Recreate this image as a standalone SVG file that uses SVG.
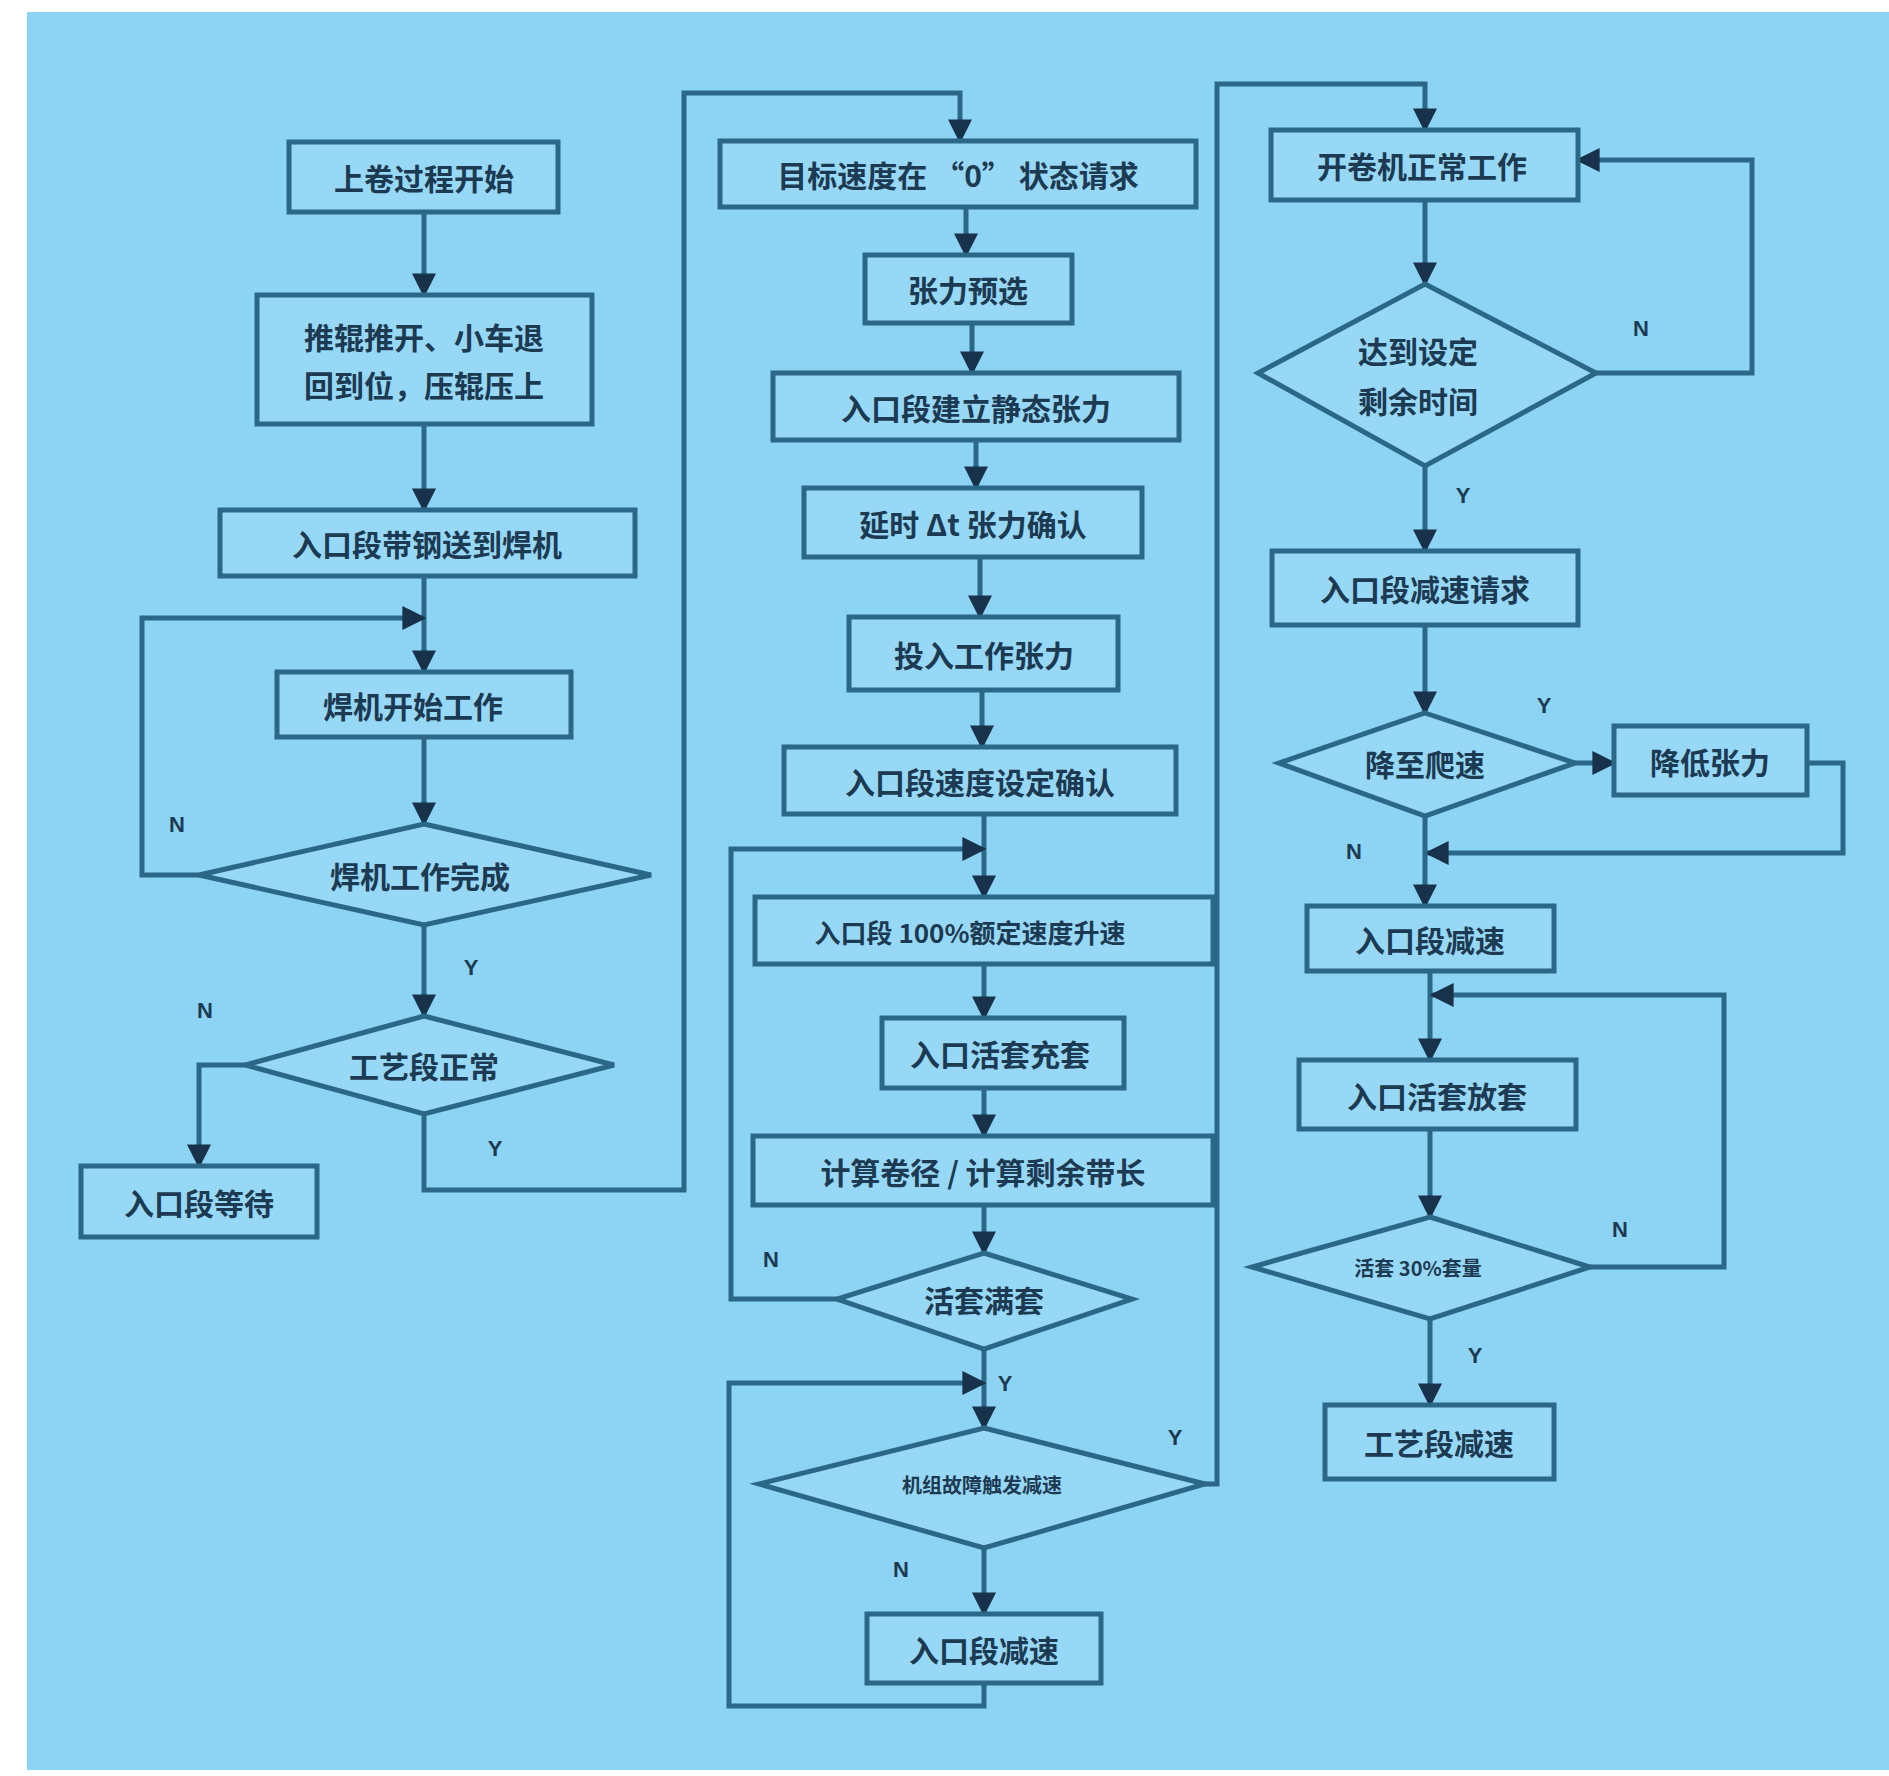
<svg xmlns="http://www.w3.org/2000/svg" width="1889" height="1776" viewBox="0 0 1889 1776">
<defs>
<style>
.bx{fill:#97d8f6;stroke:#2b6787;stroke-width:5}
.dm{fill:#97d8f6;stroke:#2b6787;stroke-width:5}
.t{font-family:"Noto Sans CJK SC","Noto Sans",sans-serif;font-weight:bold;fill:#1c3a52;text-anchor:middle;dominant-baseline:central;font-size:30px}
.s{font-size:26px}
.xs{font-size:20px}
.lb{font-family:"Liberation Sans",sans-serif;font-weight:bold;fill:#1c3a52;font-size:22px;text-anchor:middle;dominant-baseline:central}
.c{fill:none;stroke:#2b6787;stroke-width:5;marker-end:url(#ah)}
.cn{fill:none;stroke:#2b6787;stroke-width:5}
</style>
<marker id="ah" viewBox="0 0 10 10" refX="9" refY="5" markerWidth="24" markerHeight="24" markerUnits="userSpaceOnUse" orient="auto">
<path d="M0,0 L10,5 L0,10 z" fill="#17324a"/>
</marker>
</defs>
<rect x="0" y="0" width="1889" height="1776" fill="#ffffff"/>
<rect x="27" y="12" width="1862" height="1758" fill="#8dd4f4"/>

<g id="connectors">
<path class="c" d="M424 212 V295"/>
<path class="c" d="M424 424 V510"/>
<path class="c" d="M424 576 V672"/>
<path class="c" d="M199 875 H142 V618 H424"/>
<path class="c" d="M424 737 V824"/>
<path class="c" d="M424 925 V1016"/>
<path class="c" d="M245 1065 H199 V1166"/>
<path class="c" d="M424 1114 V1190 H684 V93 H960 V141"/>

<path class="c" d="M966 207 V255"/>
<path class="c" d="M972 323 V373"/>
<path class="c" d="M976 440 V488"/>
<path class="c" d="M980 557 V617"/>
<path class="c" d="M982 690 V747"/>
<path class="c" d="M984 814 V897"/>
<path class="c" d="M837 1299 H731 V849 H984"/>
<path class="c" d="M984 964 V1018"/>
<path class="c" d="M984 1088 V1136"/>
<path class="c" d="M984 1205 V1253"/>
<path class="c" d="M984 1349 V1428"/>
<path class="c" d="M984 1683 V1706 H729 V1383 H984"/>
<path class="c" d="M1205 1484 H1217 V84 H1425 V130"/>
<path class="c" d="M984 1548 V1614"/>

<path class="c" d="M1425 200 V284"/>
<path class="c" d="M1596 373 H1752 V160 H1578"/>
<path class="c" d="M1425 466 V551"/>
<path class="c" d="M1425 625 V713"/>
<path class="c" d="M1575 763 H1614"/>
<path class="c" d="M1807 763 H1843 V853 H1427"/>
<path class="c" d="M1425 816 V906"/>
<path class="c" d="M1430 971 V1060"/>
<path class="c" d="M1590 1267 H1724 V995 H1432"/>
<path class="c" d="M1430 1129 V1217"/>
<path class="c" d="M1430 1319 V1405"/>

<text class="lb" x="177" y="824">N</text>
<text class="lb" x="471" y="967">Y</text>
<text class="lb" x="205" y="1010">N</text>
<text class="lb" x="495" y="1148">Y</text>
<text class="lb" x="771" y="1259">N</text>
<text class="lb" x="1005" y="1383">Y</text>
<text class="lb" x="1175" y="1437">Y</text>
<text class="lb" x="901" y="1569">N</text>
<text class="lb" x="1641" y="328">N</text>
<text class="lb" x="1463" y="495">Y</text>
<text class="lb" x="1544" y="705">Y</text>
<text class="lb" x="1354" y="851">N</text>
<text class="lb" x="1620" y="1229">N</text>
<text class="lb" x="1475" y="1355">Y</text>
</g>

<g id="n1"><rect class="bx" x="289" y="142" width="269" height="70"/><text class="t" x="424" y="177">上卷过程开始</text></g>
<g id="n2"><rect class="bx" x="257" y="295" width="335" height="129"/><text class="t" x="424" y="336">推辊推开、小车退</text><text class="t" x="424" y="384">回到位，压辊压上</text></g>
<g id="n3"><rect class="bx" x="220" y="510" width="415" height="66"/><text class="t" x="427" y="543">入口段带钢送到焊机</text></g>
<g id="n4"><rect class="bx" x="277" y="672" width="294" height="65"/><text class="t" x="413" y="705">焊机开始工作</text></g>
<g id="n5"><polygon class="dm" points="424,824 651,875 424,925 199,875"/><text class="t" x="420" y="875">焊机工作完成</text></g>
<g id="n6"><polygon class="dm" points="424,1016 614,1065 424,1114 245,1065"/><text class="t" x="424" y="1065">工艺段正常</text></g>
<g id="n7"><rect class="bx" x="81" y="1166" width="236" height="71"/><text class="t" x="199" y="1202">入口段等待</text></g>

<g id="m1"><rect class="bx" x="720" y="141" width="476" height="66"/><text class="t" x="958" y="174">目标速度在 “0” 状态请求</text></g>
<g id="m2"><rect class="bx" x="865" y="255" width="207" height="68"/><text class="t" x="968" y="289">张力预选</text></g>
<g id="m3"><rect class="bx" x="773" y="373" width="406" height="67"/><text class="t" x="976" y="407">入口段建立静态张力</text></g>
<g id="m4"><rect class="bx" x="804" y="488" width="338" height="69"/><text class="t" x="973" y="523">延时 Δt 张力确认</text></g>
<g id="m5"><rect class="bx" x="849" y="617" width="269" height="73"/><text class="t" x="984" y="654">投入工作张力</text></g>
<g id="m6"><rect class="bx" x="784" y="747" width="392" height="67"/><text class="t" x="980" y="781">入口段速度设定确认</text></g>
<g id="m7"><rect class="bx" x="755" y="897" width="458" height="67"/><text class="t s" x="970" y="931">入口段 100%额定速度升速</text></g>
<g id="m8"><rect class="bx" x="882" y="1018" width="242" height="70"/><text class="t" x="1000" y="1053">入口活套充套</text></g>
<g id="m9"><rect class="bx" x="753" y="1136" width="460" height="69"/><text class="t" x="983" y="1171">计算卷径 / 计算剩余带长</text></g>
<g id="m10"><polygon class="dm" points="984,1253 1132,1299 984,1349 837,1299"/><text class="t" x="984" y="1299">活套满套</text></g>
<g id="m11"><polygon class="dm" points="984,1428 1205,1484 984,1548 759,1484"/><text class="t xs" x="982" y="1484">机组故障触发减速</text></g>
<g id="m12"><rect class="bx" x="867" y="1614" width="234" height="69"/><text class="t" x="984" y="1649">入口段减速</text></g>

<g id="r1"><rect class="bx" x="1271" y="130" width="307" height="70"/><text class="t" x="1422" y="165">开卷机正常工作</text></g>
<g id="r2"><polygon class="dm" points="1425,284 1596,373 1425,466 1258,373"/><text class="t" x="1418" y="350">达到设定</text><text class="t" x="1418" y="400">剩余时间</text></g>
<g id="r3"><rect class="bx" x="1272" y="551" width="306" height="74"/><text class="t" x="1425" y="588">入口段减速请求</text></g>
<g id="r4"><polygon class="dm" points="1425,713 1575,763 1425,816 1279,763"/><text class="t" x="1425" y="763">降至爬速</text></g>
<g id="r5"><rect class="bx" x="1614" y="726" width="193" height="69"/><text class="t" x="1710" y="761">降低张力</text></g>
<g id="r6"><rect class="bx" x="1307" y="906" width="247" height="65"/><text class="t" x="1430" y="939">入口段减速</text></g>
<g id="r7"><rect class="bx" x="1299" y="1060" width="277" height="69"/><text class="t" x="1437" y="1095">入口活套放套</text></g>
<g id="r8"><polygon class="dm" points="1430,1217 1590,1267 1430,1319 1252,1267"/><text class="t xs" x="1418" y="1267">活套 30%套量</text></g>
<g id="r9"><rect class="bx" x="1325" y="1405" width="229" height="74"/><text class="t" x="1439" y="1442">工艺段减速</text></g>
</svg>
